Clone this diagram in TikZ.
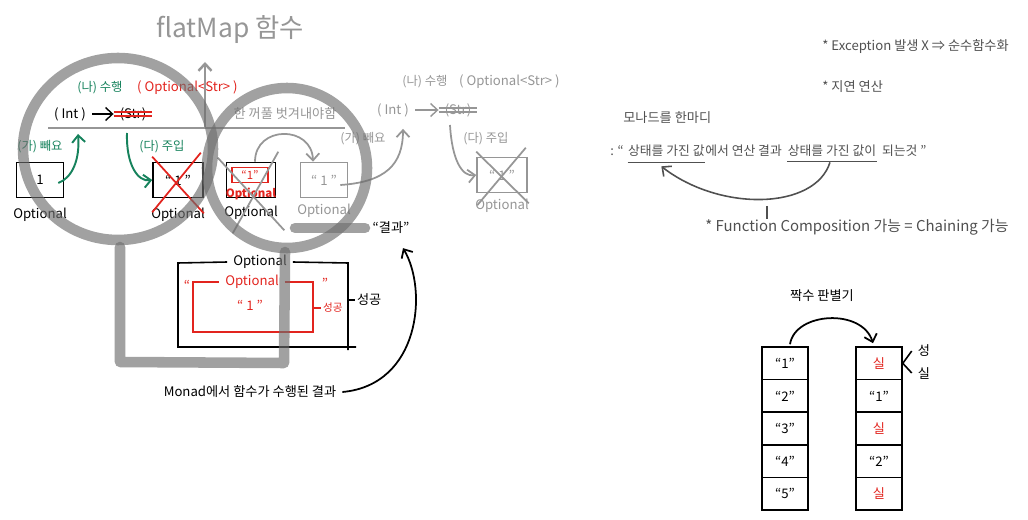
\documentclass[tikz,border=0pt]{standalone}
\usepackage{fontspec}
\setmainfont{Noto Sans CJK KR}
\usetikzlibrary{arrows.meta, positioning, calc}

\definecolor{inkgreen}{RGB}{22,130,92}
\definecolor{inkred}{RGB}{226,36,30}
\definecolor{inkgray}{RGB}{150,150,150}
\definecolor{inkdark}{RGB}{80,80,80}
\definecolor{ringgray}{RGB}{110,110,110}

\begin{document}
\begin{tikzpicture}[
    x=0.02cm, y=-0.02cm,
    font=\fontsize{7.5}{9}\selectfont,
    >={Straight Barb[length=1.4mm, width=2.6mm]},
    % boxes
    box/.style={draw, line width=0.9pt, minimum width=0.94cm, minimum height=0.7cm, inner sep=0pt},
    ghost/.style={box, draw=inkgray, text=inkgray},
    cell/.style={draw, line width=0.9pt, minimum width=0.92cm, minimum height=0.652cm, inner sep=0pt},
    % texts
    tag/.style={text=inkgreen, font=\fontsize{7}{8}\selectfont},
    graytag/.style={text=inkgray, font=\fontsize{7}{8}\selectfont},
    redtxt/.style={text=inkred},
    note/.style={text=inkdark, inner sep=0pt},
    % strokes
    ring/.style={draw=ringgray, line width=6pt, opacity=0.65, line cap=round, line join=round},
    strike/.style={inkred, line width=0.8pt},
    cross/.style={inkred, line width=1pt}
]
\useasboundingbox (0,0) rectangle (1028,520);

% ================= TITLE =================
\node[text=inkgray, font=\fontsize{15}{17}\selectfont] (title) at (230,30) {flatMap 함수};

% ================= (Int) -> (Str) =================
\node[tag] (doA) at (100,88) {(나) 수행};
\node[redtxt, anchor=west] (optStr) at (131,88) {( Optional<Str> )};
\node (intA) at (70,114) {( Int )};
\node (strA) at (133,114) {(Str)};
\draw[->, line width=0.8pt] (intA.east) -- (strA.west);
\draw[strike] ($(strA.west)+(0,-2)$) -- ($(strA.east)+(0,-2)$);
\draw[strike] ($(strA.west)+(0,2)$) -- ($(strA.east)+(0,2)$);

\coordinate (baseL) at (48,128);
\coordinate (baseR) at (345,128);
\draw[inkgray, line width=1.4pt] (baseL) -- (baseR);
\coordinate (upFoot) at (205,128);
\coordinate (upTip) at (205,62);
\draw[->, inkgray, line width=1.4pt] (upFoot) -- (upTip);
\node[text=inkgray, anchor=south] (peel) at (285,126) {한 꺼풀 벗겨내야함};

% ================= STEPS =================
\node[tag] (getA) at (40,147) {(가) 빼요};
\node[tag] (putA) at (162,147) {(다) 주입};

\node[box] (optA) at (40,180) {1};
\node[box, minimum width=1cm] (optB) at (178,180) {`` 1 ''};
\node[box, minimum width=0.98cm] (optC) at (251,180) {};
\node[ghost] (optD) at (324,180) {`` 1 ''};

\node[below=0.8mm of optA] (labA) {Optional};
\node[below=0.8mm of optB] (labB) {Optional};
\node[below=0.3mm of optC] (labC) {Optional};
\node[text=inkgray, below=0mm of optD] (labD) {Optional};

% inner red Optional
\node[draw=inkred, line width=0.9pt, minimum width=0.72cm, minimum height=0.3cm, inner sep=0pt,
      text=inkred, font=\fontsize{6.5}{7}\selectfont] (optCin) at (250,175) {``1''};
\node[redtxt, font=\fontsize{6.5}{7}\selectfont\bfseries] (labCred) at (251,194) {Optional};

% crosses
\draw[cross] ($(optB.north west)+(0,-5)$) -- ($(optB.south east)+(0,15)$);
\draw[cross] ($(optB.north east)+(-3,-9)$) -- ($(optB.south west)+(0,14)$);
\draw[inkgray, line width=1pt] ($(optC.north west)+(-8,-4)$) -- ($(optC.south east)+(8,32)$);
\draw[inkgray, line width=1pt] ($(optC.north east)+(2,-10)$) -- ($(optC.south west)+(7,35)$);

% green arrows
\coordinate (getTip) at (78,134);
\draw[->, inkgreen, line width=1.1pt] ($(optA.east)+(-6,3)$) .. controls (72,178) and (80,160) .. (getTip);
\coordinate (putFoot) at (127,133);
\draw[->, inkgreen, line width=1.1pt] (putFoot) .. controls (126,165) and (138,182) .. (optB.west);

% gray arrows
\draw[->, inkgray, line width=1pt] ($(optC.north)+(4,0)$) .. controls (255,125) and (312,125) .. ($(optD.north)+(-11,0)$);

% ================= SECOND ROUND (GRAY) =================
\node[graytag] (doB) at (425,82) {(나) 수행};
\node[text=inkgray, anchor=west] (optStrB) at (453,82) {( Optional<Str> )};
\node[text=inkgray] (intB) at (393,110) {( Int )};
\node[text=inkgray] (strB) at (458,110) {(Str)};
\draw[->, inkgray, line width=0.8pt] (intB.east) -- (strB.west);
\draw[inkgray, line width=0.8pt] ($(strB.west)+(0,-2)$) -- ($(strB.east)+(0,-2)$);
\draw[inkgray, line width=0.8pt] ($(strB.west)+(0,2)$) -- ($(strB.east)+(0,2)$);
\node[graytag] (getB) at (363,139) {(가) 빼요};
\node[graytag] (putB) at (486,139) {(다) 주입};
\node[ghost, minimum width=1cm] (optE) at (502,175) {`` 1 ''};
\node[text=inkgray, below=0mm of optE] (labE) {Optional};

\draw[->, inkgray, line width=1pt] ($(optD.east)+(-8,5)$) .. controls (385,182) and (403,165) .. ($(intB.south)+(10,6)$);
\coordinate (putFootB) at (450,125);
\draw[->, inkgray, line width=1pt] (putFootB) .. controls (452,160) and (462,177) .. (optE.west);
\draw[inkgray, line width=1pt] ($(optE.north west)+(0,-5)$) -- ($(optE.south east)+(1,10)$);
\draw[inkgray, line width=1pt] ($(optE.north east)+(-2,-9)$) -- ($(optE.south west)+(1,12)$);

% ================= RESULT BOX =================
\node (outerLab) at (260,262) {Optional};
\coordinate (outNE) at (348,263);
\coordinate (outSE) at (348,350);
\coordinate (outNW) at (178,263);
\coordinate (outSW) at (178,347);
\draw[line width=0.9pt] (outerLab.east) -- (outNE) -- (outSE);
\draw[line width=0.9pt] (outerLab.west) -- (outNW) -- (outSW) -- (356,347);

\node[redtxt] (innerLab) at (252,282) {Optional};
\draw[inkred, line width=0.9pt] (innerLab.east) -- (313,282) -- (313,332) -- (193,332) -- (193,282) -- (innerLab.west);
\node[redtxt] (qL) at (187,285) {``};
\node[redtxt] (qR) at (325,283) {''};
\node[redtxt] (oneIn) at (250,305) {`` 1 ''};
\node[redtxt, anchor=west, inner sep=1pt, font=\fontsize{6}{7}\selectfont] (okRed) at (321,308) {성공};
\draw[inkred, line width=0.9pt] (313,308) -- (okRed.west);
\node[anchor=west, inner sep=1pt] (okOut) at (355,300) {성공};
\draw[line width=0.9pt] (348,300) -- (okOut.west);

\node (result) at (391,228) {``결과''};
\node (monad) at (250,392) {Monad에서 함수가 수행된 결과};
\draw[->, line width=1pt] (monad.east) .. controls (420,385) and (428,290) .. ($(result.south)+(12,8)$);

% ================= NOTES (RIGHT) =================
\node[note, anchor=west] (noteEx) at (822,47) {* Exception 발생 X ⇒ 순수함수화};
\node[note, anchor=west] (noteLazy) at (822,87) {* 지연 연산};
\node[note, anchor=west] (monadHead) at (623,118) {모나드를 한마디};

\begin{scope}[font=\fontsize{7.3}{8}\selectfont]
\node[note, anchor=base west] (q0) at (610,156) {: ``};
\node[note, base right=2pt of q0] (q1) {상태를 가진 값};
\node[note, base right=0pt of q1] (q2) {에서 연산 결과};
\node[note, base right=3pt of q2] (q3) {상태를 가진 값이};
\node[note, base right=3pt of q3] (q4) {되는것 ''};
\end{scope}
\draw[inkdark, line width=0.9pt] ($(q1.south west)+(0,5)$) -- ($(q1.south east)+(0,5)$);
\draw[inkdark, line width=0.9pt] ($(q3.south west)+(0,4)$) -- ($(q3.south east)+(0,4)$);
\coordinate (tickTop) at (767,206);
\draw[->, inkdark, line width=0.9pt] ($(q3.south)+(-2,5)$) .. controls (815,210) and (720,212) .. ($(q1.south)+(-5,9)$);
\node[note, anchor=west, font=\fontsize{8.5}{9}\selectfont] (fnComp) at (705,227) {* Function Composition 가능 = Chaining 가능};
\draw[inkdark, line width=0.9pt] (tickTop) -- (tickTop |- fnComp.north);

% ================= EVEN FILTER =================
\node (evenTitle) at (822,296) {짝수 판별기};
\foreach \v [count=\i] in {``1'',``2'',``3'',``4'',``5''}
    \node[cell] (l\i) at (785, {363.3+32.6*(\i-1)}) {\v};
\foreach \v/\c [count=\i] in {실/inkred, ``1''/black, 실/inkred, ``2''/black, 실/inkred}
    \node[cell, text=\c] (r\i) at (879, {363.3+32.6*(\i-1)}) {\v};
\draw[->, line width=1pt] ($(l1.north)+(5,-2)$) .. controls (795,312) and (862,308) .. ($(r1.north)+(-6,-3)$);
\node (sideS) at (924,351) {성};
\node (sideF) at (924,373) {실};
\draw[line width=0.9pt] (sideS.west) -- (r1.east) -- (sideF.west);

% ================= GRAY RINGS =================
\draw[ring] (118,149) ellipse [x radius=95, y radius=91];
\draw[ring] (287,168) ellipse [x radius=80, y radius=80];
\draw[ring] (120,247) -- (120,362) -- (284,363) -- (285,252);
\draw[ring] (295,228) -- (365,228);

\end{tikzpicture}
\end{document}
